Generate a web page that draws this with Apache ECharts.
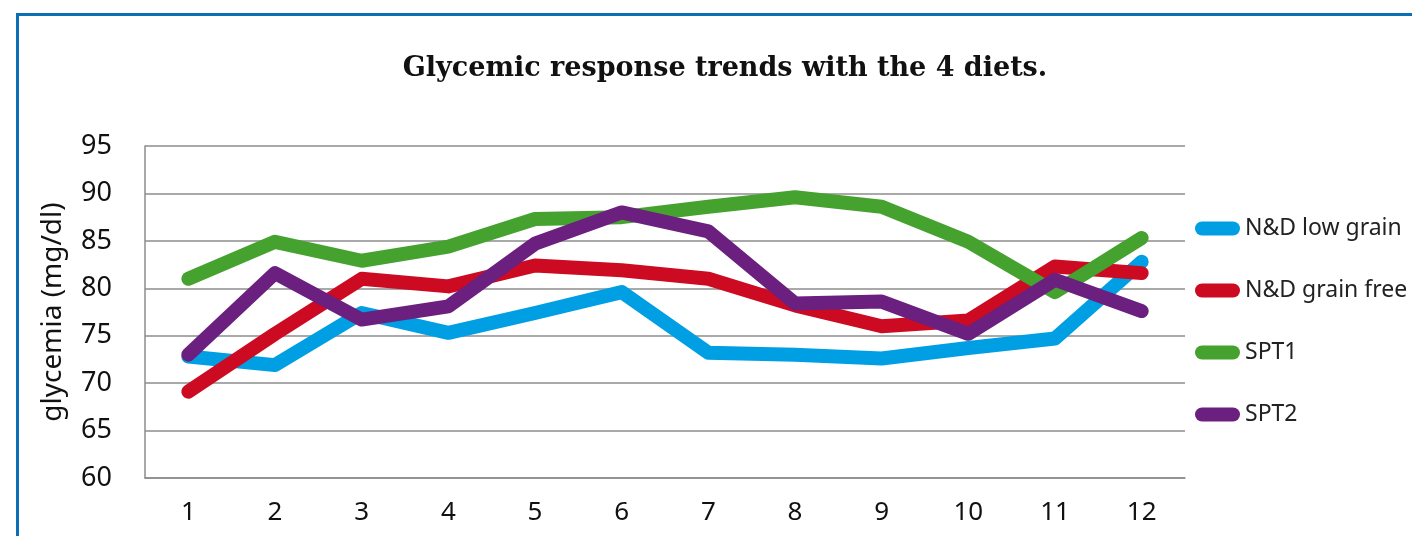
<!DOCTYPE html>
<html>
<head>
<meta charset="utf-8">
<script src="https://cdn.jsdelivr.net/npm/echarts@6/dist/echarts.min.js"></script>
<style>
  html, body { margin: 0; padding: 0; background: #fff; }
  #chart { position: absolute; left: 0; top: 0; width: 1412px; height: 536px; }
  #frame {
    position: absolute; left: 16px; top: 13px; width: 1420px; height: 560px;
    border-top: 3px solid #0b6fb8; border-left: 3px solid #0b6fb8;
    pointer-events: none;
  }
</style>
</head>
<body>
<div id="chart"></div>
<div id="frame"></div>
<script>
    // data
    var weeks = ['1', '2', '3', '4', '5', '6', '7', '8', '9', '10', '11', '12'];
    var lowGrain  = [72.8, 71.9, 77.4, 75.3, 77.4, 79.6, 73.2, 73.0, 72.6, 73.7, 74.7, 82.8];
    var grainFree = [69.1, 75.2, 81.0, 80.2, 82.4, 81.9, 81.0, 78.2, 76.0, 76.6, 82.3, 81.6];
    var spt1      = [81.0, 84.9, 82.9, 84.4, 87.3, 87.5, 88.6, 89.6, 88.6, 84.9, 79.6, 85.3];
    var spt2      = [73.0, 81.6, 76.7, 78.1, 84.7, 88.0, 86.0, 78.4, 78.6, 75.2, 80.9, 77.6];

    var names  = ['N&D low grain', 'N&D grain free', 'SPT1', 'SPT2'];
    var colors = ['#009fe3', '#cc0a22', '#45a22f', '#6b1f7f'];

    var chart = echarts.init(document.getElementById('chart'));
    var font = 'Noto Sans';
    var capsule = 'path://M7,0H38A7,7,0,0,1,38,14H7A7,7,0,0,1,7,0Z';

    function makeLine(idx, values) {
        return {
            name: names[idx],
            type: 'line',
            data: values,
            symbol: 'none',
            smooth: false,
            itemStyle: {color: colors[idx]},
            lineStyle: {color: colors[idx], width: 14, cap: 'round', join: 'round'}
        };
    }

    var option = {
        animation: false,
        title: {
            text: 'Glycemic response trends with the 4 diets.',
            left: 720,
            top: 50,
            textAlign: 'center',
            textStyle: {fontFamily: 'DejaVu Serif', fontWeight: 'bold', fontSize: 27, color: '#111'}
        },
        legend: {
            orient: 'vertical',
            left: 1190,
            top: 212,
            icon: capsule,
            itemWidth: 45,
            itemHeight: 14,
            itemGap: 39,
            itemTextGap: 6,
            data: names,
            textStyle: {fontFamily: font, fontSize: 23, color: '#222'}
        },
        grid: {left: 145, right: 227, top: 146, bottom: 58},
        xAxis: {
            type: 'category',
            data: weeks,
            boundaryGap: true,
            axisLine: {lineStyle: {color: '#8c8c8c', width: 1.5}},
            axisTick: {show: false},
            axisLabel: {fontFamily: font, fontSize: 26, color: '#111', margin: 22}
        },
        yAxis: {
            type: 'value',
            min: 60,
            max: 95,
            interval: 5,
            name: 'glycemia (mg/dl)',
            nameLocation: 'middle',
            nameGap: 78,
            nameTextStyle: {fontFamily: font, fontSize: 28, color: '#111'},
            axisLine: {show: true, lineStyle: {color: '#8c8c8c', width: 1.5}},
            axisTick: {show: false},
            axisLabel: {fontFamily: font, fontSize: 27, color: '#111', margin: 33},
            splitLine: {lineStyle: {color: '#8c8c8c', width: 1.5}}
        },
        series: [
            makeLine(0, lowGrain),
            makeLine(1, grainFree),
            makeLine(2, spt1),
            makeLine(3, spt2)
        ]
    };
    chart.setOption(option);
</script>
</body>
</html>
